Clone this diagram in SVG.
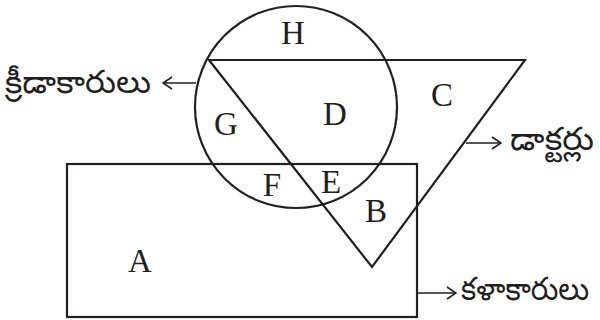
<svg xmlns="http://www.w3.org/2000/svg" width="600" height="320" viewBox="0 0 600 320">
<style>
.sh{fill:none;stroke:#231f20;stroke-width:2.2}
.ln{fill:none;stroke:#231f20;stroke-width:1.6}
.lt{font-family:"Liberation Serif","Times New Roman",serif;font-size:33px;fill:#231f20;text-anchor:middle}
.te{font-family:"Noto Sans Telugu","Noto Sans",sans-serif;font-size:32px;fill:#231f20}
</style>
<defs>
<marker id="ah" viewBox="0 0 12 14" refX="11" refY="7" markerWidth="12" markerHeight="14" markerUnits="userSpaceOnUse" orient="auto">
<path d="M2,1 L11,7 L2,13" fill="none" stroke="#231f20" stroke-width="1.6"/>
</marker>
</defs>
<rect width="600" height="320" fill="#fff"/>
<g id="rect-artists"><rect class="sh" x="67" y="164" width="350" height="153"/></g>
<g id="circle-sports"><circle class="sh" cx="296" cy="107" r="101"/></g>
<g id="triangle-doctors"><polygon class="sh" points="209,60 525,60 372,267"/></g>
<g id="regions">
<text class="lt" x="293" y="44">H</text>
<text class="lt" x="226" y="135">G</text>
<text class="lt" x="335" y="125">D</text>
<text class="lt" x="442" y="106">C</text>
<text class="lt" x="272" y="196">F</text>
<text class="lt" x="331" y="193">E</text>
<text class="lt" x="376" y="222">B</text>
<text class="lt" x="140" y="272">A</text>
</g>
<g id="connectors">
<line class="ln" x1="196" y1="83" x2="163" y2="83" marker-end="url(#ah)"/>
<line class="ln" x1="466" y1="143" x2="501" y2="143" marker-end="url(#ah)"/>
<line class="ln" x1="418" y1="293" x2="456" y2="293" marker-end="url(#ah)"/>
</g>
<g id="label-sports"><text class="te" x="5" y="93" textLength="146" lengthAdjust="spacingAndGlyphs">క్రీడాకారులు</text></g>
<g id="label-doctors"><text class="te" x="510" y="150" textLength="84" lengthAdjust="spacingAndGlyphs">డాక్టర్లు</text></g>
<g id="label-artists"><text class="te" x="461" y="300" font-size="30" textLength="128" lengthAdjust="spacingAndGlyphs">కళాకారులు</text></g>
</svg>
